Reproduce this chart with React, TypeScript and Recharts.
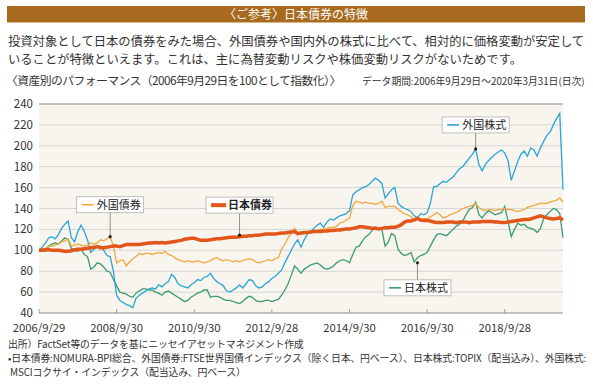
import { LineChart, Line, XAxis, YAxis, CartesianGrid, ReferenceLine, ReferenceDot } from "recharts";

// month index 0 = 2006/9/29 ... 162 = 2020/3/31
const xTickMonths = [0, 24, 48, 72, 96, 120, 144];
const xTickLabels = ["2006/9/29", "2008/9/30", "2010/9/30", "2012/9/28", "2014/9/30", "2016/9/30", "2018/9/28"];
const yTicks = [40, 60, 80, 100, 120, 140, 160, 180, 200, 220, 240];

// 日本債券
const japanBond = [
	100, 100, 100.5, 100.5, 100, 100, 100, 99.5, 99, 99, 99.5, 100.5,
	101, 101, 101.5, 102, 102.5, 103, 103.5, 102.5, 102.5, 103, 103.5, 104,
	104, 103.5, 104.5, 105.5, 105.5, 105.5, 105.5, 105.5, 106, 106.5, 107, 107,
	107.5, 107, 107.5, 107, 107.5, 108, 108.5, 109, 109.5, 110.5, 111, 111.5,
	111.5, 110.5, 109.5, 109.5, 109.5, 110, 110.5, 111, 111, 111.5, 112, 112.5,
	112.5, 112.5, 113, 113.5, 113.5, 114, 114, 114.5, 114.5, 115, 115.5, 115.5,
	115.5, 115.5, 116, 116.5, 116.5, 117, 117.5, 118, 116, 116.5, 117, 117,
	117.5, 118, 118, 118, 118.5, 118.5, 119, 119, 119.5, 119.5, 120, 120.5,
	120.5, 121, 121.5, 122.5, 122.5, 122, 121.5, 121, 121, 120.5, 121, 121.5,
	121.5, 122, 122, 123, 124.5, 127, 128, 128, 129, 130.5, 129, 128.5,
	128.5, 128, 127, 126.5, 126.5, 126.5, 127, 127, 127, 126.5, 127, 127,
	127, 126.5, 127, 127, 127, 127.5, 127.5, 127.5, 127.5, 127, 127, 126.5,
	126.5, 127, 127.5, 128, 128.5, 129, 129.5, 129.5, 130, 131, 132, 133,
	132, 131, 130.5, 130, 130.5, 131, 129,
];

// 外国債券
const foreignBond = [
	100, 101, 102, 104, 104, 105, 106, 108, 109, 111, 104, 105,
	106, 105, 104, 105, 107, 106, 107, 110, 109, 111, 113, 104,
	88, 90, 91, 85, 89, 92, 94, 97, 96, 97, 97, 96,
	97, 98, 97, 99, 96, 95, 93, 91, 90, 89, 90, 89,
	89, 90, 89, 88, 89, 90, 92, 93, 91, 90, 91, 90,
	89, 90, 89, 90, 91, 92, 91, 89, 88, 89, 90, 91,
	90, 92, 93, 101, 106, 112, 116, 121, 116, 115, 117, 117,
	118, 118, 119, 120, 120, 121, 122, 122, 123, 126, 127, 129,
	131, 143, 147, 146, 145, 146, 145, 145, 144, 145, 147, 141,
	142, 142, 142, 139, 137, 135, 134, 132, 129, 130, 129, 130,
	130, 132, 134, 136, 134, 131, 132, 134, 135, 136, 138, 140,
	141, 142, 143, 145, 141, 139, 138, 139, 139, 138, 139, 139,
	140, 139, 139, 138, 137, 138, 139, 141, 142, 143, 144, 145,
	145, 145, 146, 147, 148, 150, 146,
];

// 日本株式
const japanStock = [
	100, 101, 99, 104, 106, 107, 106, 109, 112, 110, 102, 100,
	99, 101, 96, 94, 82, 84, 88, 87, 84, 80, 79, 72,
	66, 60, 59, 58, 56, 55, 59, 61, 63, 63, 62, 62,
	60, 59, 57, 60, 61, 59, 57, 55, 53, 51, 52, 55,
	57, 59, 60, 62, 62, 55, 56, 56, 55, 53, 52, 52,
	51, 50, 49, 51, 54, 56, 55, 52, 51, 51, 52, 52,
	51, 52, 53, 57, 62, 68, 76, 85, 82, 78, 82, 84,
	86, 87, 88, 86, 83, 82, 83, 85, 88, 90, 91, 90,
	88, 96, 103, 104, 109, 113, 115, 119, 122, 121, 120, 104,
	108, 116, 114, 101, 97, 95, 96, 98, 89, 93, 95, 96,
	98, 104, 110, 115, 116, 115, 114, 117, 120, 123, 125, 128,
	134, 139, 141, 146, 134, 131, 135, 138, 136, 134, 135, 136,
	142, 128, 113, 120, 126, 124, 125, 122, 121, 120, 117, 121,
	130, 134, 137, 140, 139, 135, 112,
];

// 外国株式
const foreignStock = [
	100, 103, 107, 112, 113, 111, 115, 121, 125, 128, 112, 108,
	118, 124, 118, 110, 98, 101, 103, 104, 100, 95, 94, 80,
	57, 52, 50, 48, 47, 45, 54, 57, 59, 61, 63, 64,
	63, 67, 65, 68, 70, 77, 74, 68, 66, 65, 64, 67,
	69, 72, 71, 74, 75, 78, 73, 70, 68, 66, 61, 60,
	62, 64, 67, 64, 68, 72, 71, 66, 64, 65, 68, 70,
	73, 75, 78, 81, 88, 94, 100, 106, 110, 103, 110, 116,
	118, 121, 124, 126, 122, 127, 130, 129, 131, 133, 134, 135,
	138, 153, 156, 158, 160, 161, 163, 166, 169, 167, 164, 150,
	154, 158, 160, 145, 142, 140, 139, 137, 133, 131, 135, 134,
	136, 145, 161, 161, 164, 166, 165, 168, 170, 174, 178, 180,
	184, 188, 192, 197, 182, 176, 182, 186, 189, 192, 194, 196,
	193, 186, 167, 176, 185, 192, 195, 190, 198, 196, 190, 198,
	204, 210, 213, 220, 226, 231, 158,
];

const data = japanBond.map((v, i) => ({
	m: i,
	japanBond: v,
	foreignBond: foreignBond[i],
	japanStock: japanStock[i],
	foreignStock: foreignStock[i],
}));

// callout anchors (month index, value)
const callouts = [
	{ label: "外国債券", m: 22, v: 113, color: "#f4a640", thick: false, below: false, gap: 24 },
	{ label: "日本債券", m: 62, v: 114.5, color: "#e2561a", thick: true, below: false, gap: 22 },
	{ label: "外国株式", m: 135, v: 197, color: "#2aa5d6", thick: false, below: false, gap: 16 },
	{ label: "日本株式", m: 117, v: 88, color: "#3a9a72", thick: false, below: true, gap: 17 },
];

const FONT = '"Noto Sans CJK JP", "Noto Sans", sans-serif';

const Callout = (props: any) => {
	const { cx, cy, label, color, thick, below, gap } = props;
	const w = 67;
	const h = 16;
	const left = cx - w / 2;
	const boxY = below ? cy + gap : cy - gap - h;
	const lineEnd = below ? boxY : boxY + h;
	return (
		<g>
			<line x1={cx} x2={cx} y1={cy} y2={lineEnd} stroke="#777" strokeWidth={0.8} />
			<circle cx={cx} cy={cy} r={1.6} fill="#222" />
			<rect x={left} y={boxY} width={w} height={h} fill="#fff" stroke="#b0b0b0" strokeWidth={0.8} />
			<line
				x1={left + 5}
				x2={left + (thick ? 20 : 17)}
				y1={boxY + h / 2}
				y2={boxY + h / 2}
				stroke={color}
				strokeWidth={thick ? 4 : 1.6}
			/>
			<text
				x={left + (thick ? 22 : 20)}
				y={boxY + h / 2 + 4}
				fontSize={11}
				fill="#222"
				fontWeight={thick ? 700 : 400}
				fontFamily={FONT}
			>
				{label}
			</text>
		</g>
	);
};

const XTick = (props: any) => {
	const { x, y, payload } = props;
	const i = xTickMonths.indexOf(payload.value);
	return (
		<g>
			<line x1={x} x2={x} y1={y - 4} y2={y} stroke="#888" strokeWidth={0.8} />
			<text x={x} y={y + 19} textAnchor="middle" fontSize={11.3} fill="#333" fontFamily={FONT}>
				{xTickLabels[i]}
			</text>
		</g>
	);
};

export default function App() {
	return (
		<div
			style={{
				position: "absolute",
				left: 0,
				top: 0,
				width: 593,
				height: 386,
				background: "#fff",
				fontFamily: FONT,
				color: "#333",
				overflow: "hidden",
			}}
		>
			<div
				style={{
					position: "absolute",
					left: 7,
					top: 6,
					width: 578,
					height: 16,
					background: "#a86a1e",
					borderBottom: "1px solid #d8b98a",
					color: "#fff",
					fontSize: 12,
					lineHeight: "16px",
					textAlign: "center",
				}}
			>
				〈ご参考〉日本債券の特徴
			</div>
			<div style={{ position: "absolute", left: 8, top: 32, fontSize: 12.3, lineHeight: "18px", whiteSpace: "nowrap" }}>
				投資対象として日本の債券をみた場合、外国債券や国内外の株式に比べて、相対的に価格変動が安定して
				<br />
				いることが特徴といえます。これは、主に為替変動リスクや株価変動リスクがないためです。
			</div>
			<div
				style={{
					position: "absolute",
					left: 6,
					top: 71,
					fontSize: 11.8,
					letterSpacing: -0.55,
					whiteSpace: "nowrap",
				}}
			>
				〈資産別のパフォーマンス（2006年9月29日を100として指数化）〉
			</div>
			<div style={{ position: "absolute", left: 362, top: 74, fontSize: 9.8, whiteSpace: "nowrap" }}>
				データ期間:2006年9月29日～2020年3月31日(日次)
			</div>

			<div style={{ position: "absolute", left: 0, top: 0 }}>
				<LineChart width={593} height={386} data={data} margin={{ top: 104, right: 30, bottom: 53, left: 9 }}>
					<CartesianGrid vertical={false} stroke="#d6d6d6" fill="#f7f5ee" />
					<XAxis
						dataKey="m"
						type="number"
						domain={[0, 162]}
						ticks={xTickMonths}
						interval={0}
						height={20}
						tickSize={0}
						tickMargin={0}
						tickLine={false}
						axisLine={{ stroke: "#999" }}
						tick={<XTick />}
					/>
					<YAxis
						domain={[40, 240]}
						ticks={yTicks}
						width={30}
						tickSize={4}
						tickMargin={2}
						tickLine={false}
						axisLine={false}
						interval={0}
						tick={{ fontSize: 11.5, fill: "#333", fontFamily: FONT }}
					/>
					<ReferenceLine y={240} stroke="#9a9a9a" strokeWidth={1} />
					<Line dataKey="japanStock" stroke="#3a9a72" strokeWidth={1.3} dot={false} isAnimationActive={false} />
					<Line dataKey="foreignStock" stroke="#2aa5d6" strokeWidth={1.3} dot={false} isAnimationActive={false} />
					<Line dataKey="foreignBond" stroke="#f4a640" strokeWidth={1.3} dot={false} isAnimationActive={false} />
					<Line dataKey="japanBond" stroke="#e2561a" strokeWidth={3.5} dot={false} isAnimationActive={false} />
					{callouts.map((c) => (
						<ReferenceDot
							key={c.label}
							x={c.m}
							y={c.v}
							ifOverflow="visible"
							shape={(p: any) => <Callout {...p} {...c} />}
						/>
					))}
				</LineChart>
			</div>

			<div style={{ position: "absolute", left: 8, top: 337, fontSize: 9.9, lineHeight: "14px", whiteSpace: "nowrap", letterSpacing: -0.15 }}>
				出所）FactSet等のデータを基にニッセイアセットマネジメント作成
				<br />
				•日本債券:NOMURA-BPI総合、外国債券:FTSE世界国債インデックス（除く日本、円ベース）、日本株式:TOPIX（配当込み）、外国株式:
				<br />
				&nbsp;MSCIコクサイ・インデックス（配当込み、円ベース）
			</div>
		</div>
	);
}
